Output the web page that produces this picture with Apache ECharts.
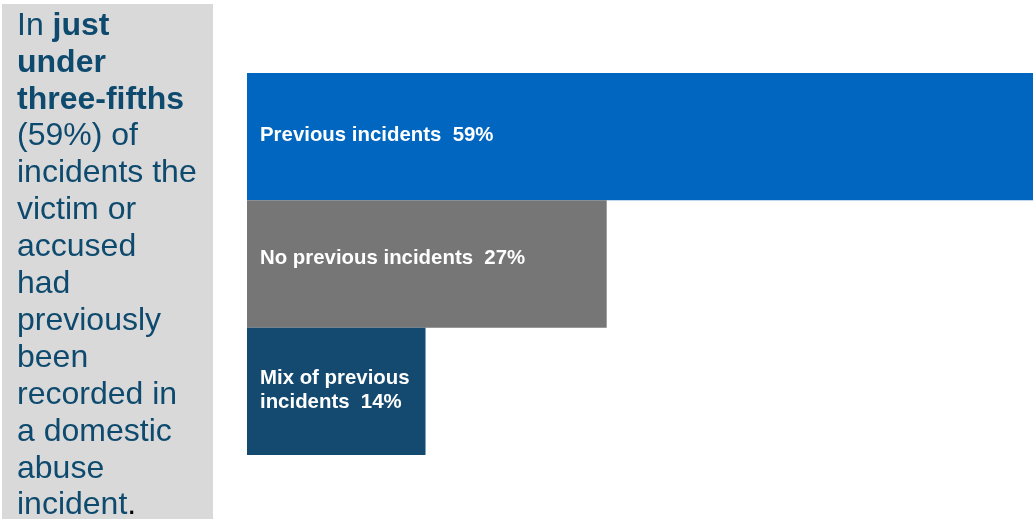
<!DOCTYPE html>
<html>
<head>
<meta charset="utf-8">
<script src="https://cdn.jsdelivr.net/npm/echarts@6/dist/echarts.min.js"></script>
<style>
html,body{margin:0;padding:0;background:#fff;}
#chart{width:1035px;height:519px;}
</style>
</head>
<body>
<div id="chart"></div>
<script>
// Data
var categories = ['Previous incidents', 'No previous incidents', 'Mix of previous\nincidents'];
var values = [59, 27, 13.4];
var pctLabels = ['59%', '27%', '14%'];
var barColors = ['#0066BF', '#767676', '#144A6F'];
var axisMax = 59;
var panelText = 'In {b|just}\n{b|under}\n{b|three-fifths}\n(59%) of\nincidents the\nvictim or\naccused\nhad\npreviously\nbeen\nrecorded in\na domestic\nabuse\nincident{k|.}';

var labelOffsets = [[0, -1], [0, -6], [0, -1]];
var chart = echarts.init(document.getElementById('chart'));
var seriesData = values.map(function (v, i) {
  return { value: v, itemStyle: { color: barColors[i] }, label: { offset: labelOffsets[i] } };
});
chart.setOption({
  animation: false,
  backgroundColor: '#ffffff',
  grid: { left: 247, right: 2, top: 73, bottom: 64, containLabel: false },
  xAxis: { type: 'value', min: 0, max: axisMax, show: false },
  yAxis: { type: 'category', data: categories, inverse: true, show: false },
  graphic: [
    { type: 'rect', left: 2, top: 4, shape: { width: 211, height: 515 }, style: { fill: '#D9D9D9' }, z: 0 },
    { type: 'text', left: 17, top: 7.5, z: 1,
      style: {
        text: panelText,
        fontFamily: 'Liberation Sans, Arial, sans-serif',
        fontSize: 32,
        lineHeight: 36.9,
        fill: '#0E4A6E',
        rich: {
          b: { fontWeight: 'bold', fontSize: 32, lineHeight: 36.9, fill: '#0E4A6E', fontFamily: 'Liberation Sans, Arial, sans-serif' },
          k: { fontSize: 32, lineHeight: 36.9, fill: '#000000', fontFamily: 'Liberation Sans, Arial, sans-serif' }
        }
      }
    }
  ],
  series: [{
    type: 'bar',
    data: seriesData,
    barCategoryGap: 0,
    label: {
      show: true,
      position: 'insideLeft',
      distance: 13,
      color: '#ffffff',
      fontWeight: 'bold',
      fontSize: 20.4,
      lineHeight: 24,
      fontFamily: 'Liberation Sans, Arial, sans-serif',
      formatter: function (p) { return categories[p.dataIndex] + '  ' + pctLabels[p.dataIndex]; }
    }
  }]
});
</script>
</body>
</html>
